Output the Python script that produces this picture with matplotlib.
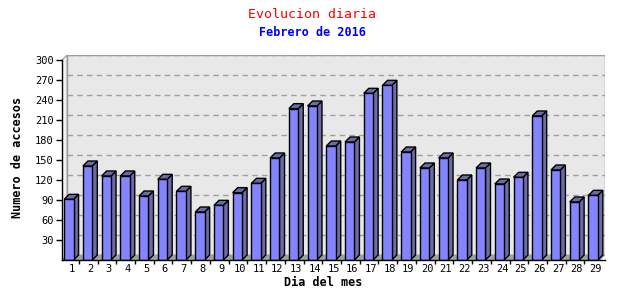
import matplotlib.pyplot as plt
from matplotlib.patches import Polygon
import numpy as np

dias = [str(d) for d in range(1, 30)]
accesos = [91, 141, 126, 126, 96, 121, 103, 72, 82, 101, 115, 153, 227, 231,
           171, 177, 250, 262, 162, 138, 153, 120, 138, 114, 124, 216, 135, 87, 97]
yticks = list(range(30, 301, 30))

front = '#8484ff'
side = '#6b6ba5'
edge = 'black'
dx = 0.27     # depth in slot units
dy = 7.5      # depth in value units
bw = 0.5

fig = plt.figure(figsize=(6.4, 3.0), dpi=100)
fig.patch.set_facecolor('white')
ax = fig.add_axes([62 / 640, (300 - 260) / 300, (605 - 62) / 640, (260 - 55) / 300])
ax.set_xlim(-0.5, 28.5)
ax.set_ylim(0, 307.5)
ax.set_facecolor('white')
for s in ax.spines.values():
    s.set_visible(False)

n = len(accesos)
xmin, xmax = -0.5, n - 0.5
# back wall
ax.add_patch(Polygon([(xmin + dx, dy), (xmax, dy), (xmax, 307.5), (xmin + dx, 307.5)],
                     closed=True, facecolor='#e8e8e8', edgecolor='#999999', lw=1, zorder=0))
# left wall
ax.add_patch(Polygon([(xmin, 0), (xmin + dx, dy), (xmin + dx, 307.5), (xmin, 300)],
                     closed=True, facecolor='#f2f2f2', edgecolor='#999999', lw=0.8, zorder=0))
# floor
ax.add_patch(Polygon([(xmin, 0), (xmax - dx, 0), (xmax, dy), (xmin + dx, dy)],
                     closed=True, facecolor='#a0a0a0', edgecolor='#a0a0a0', lw=0.5, zorder=0))
for v in yticks:
    ax.plot([xmin + dx, xmax], [v + dy, v + dy], color='#a0a0a0', lw=1,
            linestyle=(0, (4, 3)), zorder=1)

x = np.arange(n)
for xi, v in zip(x, accesos):
    l = xi - dx / 2 - bw / 2
    r = l + bw
    ax.add_patch(Polygon([(r, 0), (r + dx, dy), (r + dx, v + dy), (r, v)],
                         closed=True, facecolor=side, edgecolor=edge, lw=1, zorder=3))
    ax.add_patch(Polygon([(l, v), (r, v), (r + dx, v + dy), (l + dx, v + dy)],
                         closed=True, facecolor=side, edgecolor=edge, lw=1, zorder=3))
ax.bar(x - dx / 2, accesos, width=bw, color=front, edgecolor=edge, lw=1, zorder=4)

# front axes
ax.plot([xmin, xmin], [0, 300], color='black', lw=1, clip_on=False, zorder=5)
ax.plot([xmin, xmax], [0, 0], color='black', lw=1, clip_on=False, zorder=5)

ax.set_yticks(yticks)
ax.set_yticklabels([str(v) for v in yticks], fontsize=7.5, family='DejaVu Sans Mono')
ax.set_xticks(x)
ax.set_xticklabels(dias, fontsize=7.5, family='DejaVu Sans Mono')
ax.tick_params(axis='y', length=4, width=1, pad=2)
ax.tick_params(axis='x', length=0, pad=3)
ax.set_xticks(x[:-1] + 0.4, minor=True)
ax.tick_params(axis='x', which='minor', length=3, width=1)

ax.set_ylabel('Numero de accesos', fontsize=8.5, fontweight='bold', family='DejaVu Sans Mono', labelpad=8)
fig.text(323 / 640, 1 - 282 / 300, 'Dia del mes', fontsize=8.5, fontweight='bold',
         family='DejaVu Sans Mono', ha='center', va='center')

fig.text(312 / 640, 1 - 14 / 300, 'Evolucion diaria', color='red', fontsize=9.5,
         family='DejaVu Sans Mono', ha='center', va='center')
fig.text(312 / 640, 1 - 32 / 300, 'Febrero de 2016', color='blue', fontsize=8.5,
         fontweight='bold', family='DejaVu Sans Mono', ha='center', va='center')

fig.savefig('out.png', dpi=100)
